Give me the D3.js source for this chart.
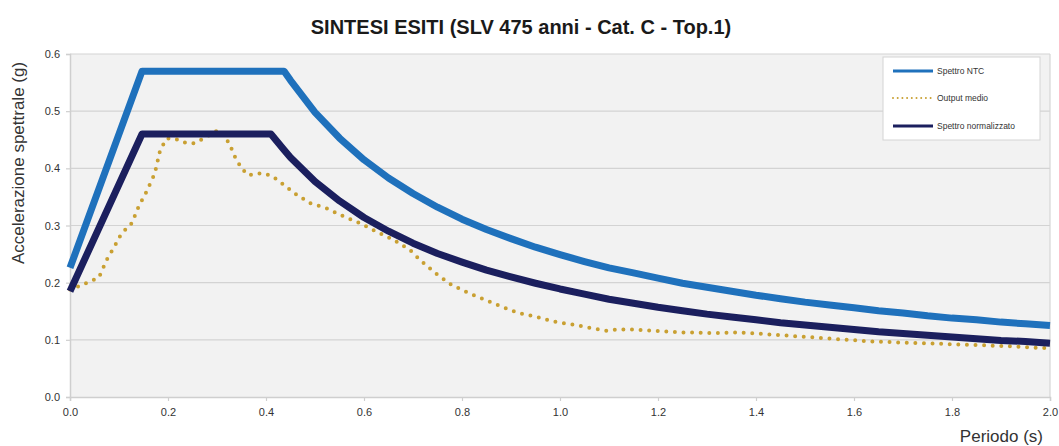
<!DOCTYPE html>
<html>
<head>
<meta charset="utf-8">
<script src="https://cdn.jsdelivr.net/npm/d3@7"></script>
<style>
  html, body { margin: 0; padding: 0; background: #ffffff; }
  svg { display: block; }
  text { font-family: "Liberation Sans", Arial, sans-serif; }
</style>
</head>
<body>
<svg id="chart" width="1059" height="446"></svg>
<script>
// Periods (s) shared by the two design spectra
const periods = [0, 0.147, 0.41, 0.437, 0.45, 0.5, 0.55, 0.6, 0.65, 0.7, 0.75, 0.8, 0.85, 0.9, 0.95,
  1.0, 1.05, 1.1, 1.15, 1.2, 1.25, 1.3, 1.35, 1.4, 1.45, 1.5, 1.55, 1.6, 1.65, 1.7, 1.75, 1.8, 1.85, 1.9, 1.95, 2.0];

// Spettro NTC (g)
const spettroNTC = [0.226, 0.57, 0.57, 0.57, 0.554, 0.498, 0.453, 0.415, 0.383, 0.356, 0.332, 0.311, 0.293, 0.277, 0.262,
  0.249, 0.237, 0.226, 0.217, 0.208, 0.199, 0.192, 0.185, 0.178, 0.172, 0.166, 0.161, 0.156, 0.151, 0.147, 0.142, 0.138, 0.135, 0.131, 0.128, 0.125];

// Spettro normalizzato (g)
const spettroNormalizzato = [0.185, 0.46, 0.46, 0.432, 0.419, 0.377, 0.343, 0.314, 0.290, 0.269, 0.251, 0.236, 0.222, 0.210, 0.199,
  0.189, 0.180, 0.171, 0.164, 0.157, 0.151, 0.145, 0.140, 0.135, 0.130, 0.126, 0.122, 0.118, 0.114, 0.111, 0.108, 0.105, 0.102, 0.099, 0.097, 0.094];

// Output medio: periods (s) and spectral acceleration (g)
const outputPeriods = [0, 0.01, 0.035, 0.059, 0.075, 0.09, 0.102, 0.115, 0.126, 0.14, 0.156, 0.173, 0.184, 0.197, 0.214,
  0.238, 0.255, 0.272, 0.303, 0.316, 0.327, 0.333, 0.35, 0.364, 0.381, 0.398, 0.415, 0.432, 0.459, 0.49, 0.524, 0.558,
  0.592, 0.626, 0.66, 0.694, 0.714, 0.745, 0.779, 0.813, 0.847, 0.881, 0.915, 0.949, 0.987, 1.024, 1.061, 1.095, 1.116,
  1.15, 1.19, 1.245, 1.313, 1.367, 1.4, 1.503, 1.64, 1.776, 1.912, 2.0];
const outputMedio = [0.188, 0.191, 0.2, 0.209, 0.24, 0.262, 0.281, 0.295, 0.304, 0.333, 0.359, 0.391, 0.432, 0.452, 0.452,
  0.444, 0.444, 0.452, 0.467, 0.455, 0.441, 0.426, 0.4, 0.388, 0.391, 0.391, 0.385, 0.374, 0.356, 0.339, 0.33, 0.316,
  0.304, 0.289, 0.275, 0.257, 0.24, 0.217, 0.196, 0.182, 0.17, 0.158, 0.147, 0.141, 0.132, 0.127, 0.121, 0.116, 0.118,
  0.118, 0.116, 0.113, 0.112, 0.113, 0.111, 0.105, 0.097, 0.093, 0.089, 0.085];

// Axis ticks
const xTicks = [0, 0.2, 0.4, 0.6, 0.8, 1.0, 1.2, 1.4, 1.6, 1.8, 2.0];
const yTicks = [0, 0.1, 0.2, 0.3, 0.4, 0.5, 0.6];

const titleText = "SINTESI ESITI (SLV 475 anni - Cat. C - Top.1)";
const xTitle = "Periodo (s)";
const yTitle = "Accelerazione spettrale (g)";
const seriesNames = ["Spettro NTC", "Output medio", "Spettro normalizzato"];

const colors = { ntc: "#1f71bc", output: "#c9a032", norm: "#1b1f5e" };

const svg = d3.select("#chart");
const plot = { left: 70, right: 1050, top: 54, bottom: 397 };

const x = d3.scaleLinear().domain([0, 2]).range([plot.left, plot.right]);
const y = d3.scaleLinear().domain([0, 0.6]).range([plot.bottom, plot.top]);

// Plot area background
svg.append("rect")
  .attr("x", plot.left).attr("y", plot.top)
  .attr("width", plot.right - plot.left).attr("height", plot.bottom - plot.top)
  .attr("fill", "#f2f2f2");

// Horizontal gridlines
svg.append("g").selectAll("line").data(yTicks.filter(d => d > 0)).join("line")
  .attr("x1", plot.left).attr("x2", plot.right)
  .attr("y1", d => y(d)).attr("y2", d => y(d))
  .attr("stroke", "#d3d3d3").attr("stroke-width", 1.2);

// Right border of the plot area
svg.append("line")
  .attr("x1", plot.right).attr("x2", plot.right)
  .attr("y1", plot.top).attr("y2", plot.bottom)
  .attr("stroke", "#d6d6d6").attr("stroke-width", 1.2);

// Axes
const xAxis = svg.append("g")
  .attr("transform", `translate(0,${plot.bottom})`)
  .call(d3.axisBottom(x).tickValues(xTicks).tickFormat(d3.format(".1f")).tickSize(4).tickPadding(7));
const yAxis = svg.append("g")
  .attr("transform", `translate(${plot.left},0)`)
  .call(d3.axisLeft(y).tickValues(yTicks).tickFormat(d3.format(".1f")).tickSize(4).tickPadding(6));

[xAxis, yAxis].forEach(g => {
  g.select(".domain").attr("stroke", "#cfcfcf").attr("stroke-width", 1.5);
  g.selectAll(".tick line").attr("stroke", "#cfcfcf").attr("stroke-width", 1.2);
  g.selectAll(".tick text")
    .attr("fill", "#333333")
    .style("font-family", "'Liberation Sans', Arial, sans-serif")
    .style("font-size", "11px");
});

// Series lines
const line = d3.line().x(d => x(d[0])).y(d => y(d[1]));
const ntcData = periods.map((p, i) => [p, spettroNTC[i]]);
const normData = periods.map((p, i) => [p, spettroNormalizzato[i]]);
const outData = outputPeriods.map((p, i) => [p, outputMedio[i]]);

svg.append("path").datum(ntcData)
  .attr("d", line).attr("fill", "none")
  .attr("stroke", colors.ntc).attr("stroke-width", 7)
  .attr("stroke-linejoin", "round");

svg.append("path").datum(outData)
  .attr("d", line).attr("fill", "none")
  .attr("stroke", colors.output).attr("stroke-width", 4)
  .attr("stroke-linecap", "round").attr("stroke-dasharray", "0 8.6");

svg.append("path").datum(normData)
  .attr("d", line).attr("fill", "none")
  .attr("stroke", colors.norm).attr("stroke-width", 7)
  .attr("stroke-linejoin", "round");

// Title
svg.append("text")
  .attr("x", 521).attr("y", 34)
  .attr("text-anchor", "middle")
  .attr("font-weight", "bold")
  .attr("font-size", 20)
  .attr("fill", "#1a1a1a")
  .text(titleText);

// Axis titles
svg.append("text")
  .attr("x", 1043).attr("y", 442)
  .attr("text-anchor", "end")
  .attr("font-size", 17)
  .attr("fill", "#333")
  .text(xTitle);

svg.append("text")
  .attr("transform", "translate(24,163) rotate(-90)")
  .attr("text-anchor", "middle")
  .attr("font-size", 17)
  .attr("fill", "#333")
  .text(yTitle);

// Legend
const legend = svg.append("g");
legend.append("rect")
  .attr("x", 883).attr("y", 57).attr("width", 157).attr("height", 83)
  .attr("fill", "#ffffff").attr("stroke", "#d4d4d4").attr("stroke-width", 1);

const legendRows = [
  { name: seriesNames[0], color: colors.ntc, width: 3, dash: null, cap: "butt" },
  { name: seriesNames[1], color: colors.output, width: 2, dash: "0 4.7", cap: "round" },
  { name: seriesNames[2], color: colors.norm, width: 3, dash: null, cap: "butt" }
];
const rowY = [71, 98, 126];
legendRows.forEach((r, i) => {
  legend.append("line")
    .attr("x1", 893).attr("x2", 933)
    .attr("y1", rowY[i]).attr("y2", rowY[i])
    .attr("stroke", r.color).attr("stroke-width", r.width)
    .attr("stroke-linecap", r.cap)
    .attr("stroke-dasharray", r.dash);
  legend.append("text")
    .attr("x", 937).attr("y", rowY[i] + 3)
    .attr("font-size", 8.5)
    .attr("fill", "#333")
    .text(r.name);
});
</script>
</body>
</html>
